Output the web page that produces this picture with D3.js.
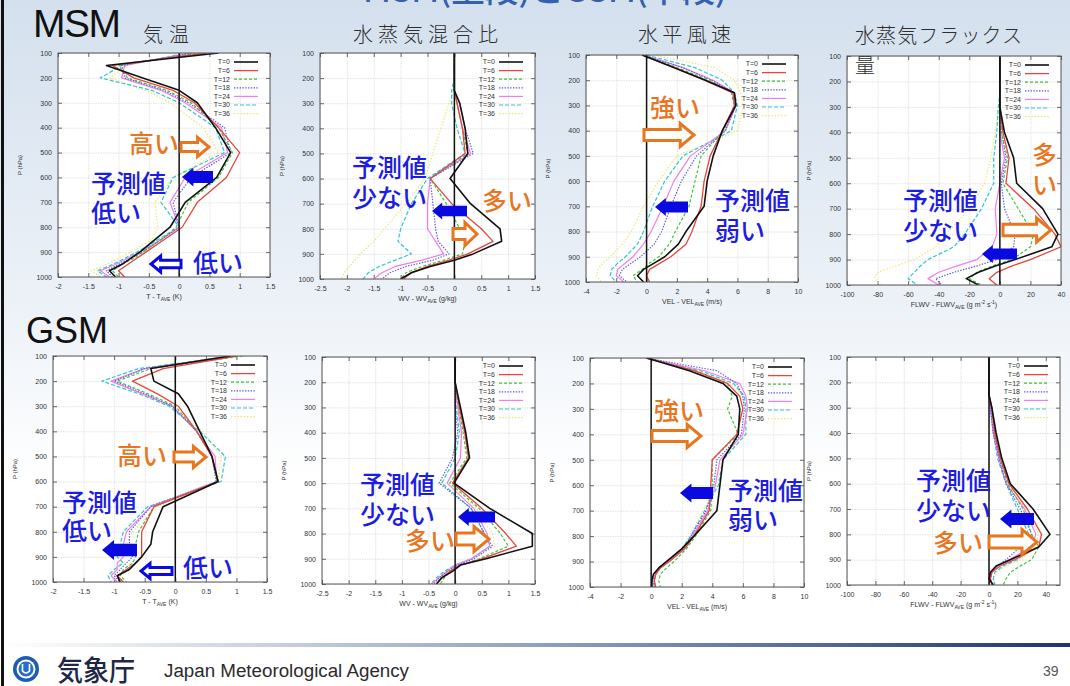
<!DOCTYPE html>
<html>
<head>
<meta charset="utf-8">
<script src="https://cdn.jsdelivr.net/npm/d3@7"></script>
<style>
  body { margin: 0; background: #fff; }
  svg { display: block; }
</style>
</head>
<body>
<svg id="chart" width="1070" height="686"></svg>
<script>
// Pressure levels (hPa) at which every profile is given
const levels = [100, 150, 200, 250, 300, 400, 500, 600, 700, 800, 850, 900, 925, 950, 975, 1000];
const leadTimes = ["T=0", "T=6", "T=12", "T=18", "T=24", "T=30", "T=36"];
const pressureTicks = [100, 200, 300, 400, 500, 600, 700, 800, 900, 1000];
const tempTicks = [-2, -1.5, -1, -0.5, 0, 0.5, 1, 1.5];
const wvTicks = [-2.5, -2, -1.5, -1, -0.5, 0, 0.5, 1, 1.5];
const velTicks = [-4, -2, 0, 2, 4, 6, 8, 10];
const flwvTicks = [-100, -80, -60, -40, -20, 0, 20, 40];

// MSM deviations from the ensemble mean; one row per lead time (T=0 ... T=36)
const msmTemp = [
  [0.65, -1.2, -0.6, 0.0, 0.3, 0.6, 0.85, 0.62, 0.1, -0.15, -0.4, -0.65, -0.8, -0.95, -1.15, -1.05],
  [0.45, -1.1, -0.75, -0.1, 0.25, 0.65, 1.0, 0.78, 0.3, 0.05, -0.25, -0.55, -0.7, -0.85, -1.0, -0.9],
  [0.35, -1.0, -0.85, -0.2, 0.2, 0.65, 0.88, 0.65, 0.15, -0.05, -0.3, -0.6, -0.75, -0.95, -1.1, -1.0],
  [0.25, -0.95, -0.9, -0.25, 0.15, 0.75, 0.85, 0.2, -0.1, 0.0, -0.3, -0.6, -0.8, -1.0, -1.2, -1.1],
  [0.2, -0.9, -0.95, -0.3, 0.1, 0.7, 0.8, 0.1, -0.15, 0.0, -0.3, -0.65, -0.85, -1.05, -1.3, -1.15],
  [0.15, -0.95, -1.3, -0.45, 0.0, 0.6, 0.75, -0.1, -0.3, 0.0, -0.35, -0.7, -0.9, -1.1, -1.35, -1.2],
  [0.1, -0.85, -1.15, -0.55, -0.15, 0.4, 0.65, -0.1, -0.4, -0.35, -0.45, -0.8, -1.0, -1.2, -1.45, -1.3]
];
const msmWv = [
  [0, 0, 0, 0, 0.1, 0.2, 0.25, -0.08, 0.3, 0.85, 0.88, 0.35, 0.0, -0.45, -0.8, -1.0],
  [0, 0, 0, 0, 0.05, 0.15, 0.2, -0.45, -0.05, 0.5, 0.72, 0.25, -0.1, -0.5, -0.8, -0.95],
  [0, 0, 0, 0, 0.05, 0.15, 0.25, -0.45, -0.15, 0.1, 0.2, 0.15, -0.2, -0.6, -0.9, -1.0],
  [0, 0, 0, 0, 0.1, 0.2, 0.35, -0.45, -0.4, -0.35, -0.3, -0.1, -0.4, -0.9, -1.2, -1.35],
  [0, 0, 0, 0, 0.05, 0.15, 0.3, -0.45, -0.5, -0.5, -0.35, -0.2, -0.6, -1.1, -1.35, -1.5],
  [0, 0, 0, -0.05, -0.05, 0.05, 0.2, -0.5, -0.8, -1.0, -1.05, -0.8, -1.1, -1.4, -1.6, -1.7],
  [0, 0, 0, 0, -0.1, -0.25, -0.4, -0.55, -0.9, -1.3, -1.5, -1.75, -1.85, -1.95, -2.05, -2.1]
];
const msmVel = [
  [-0.3, 1.8, 3.9, 5.8, 5.9, 5.0, 4.4, 4.0, 3.8, 2.6, 2.1, 1.2, 0.5, -0.2, -0.6, -0.2],
  [-0.3, 1.8, 3.8, 5.7, 5.8, 5.0, 4.2, 3.8, 3.6, 3.0, 2.6, 1.6, 0.9, 0.2, 0.0, 0.2],
  [-0.2, 2.0, 4.2, 5.6, 5.8, 5.1, 3.6, 3.2, 2.8, 1.9, 1.5, 0.8, 0.2, -0.3, -0.9, -0.6],
  [-0.2, 2.4, 4.3, 5.8, 5.9, 5.2, 3.3, 2.3, 1.6, 1.0, 0.5, -0.4, -1.0, -1.6, -1.8, -1.3],
  [-0.2, 2.4, 4.4, 5.8, 5.9, 5.2, 2.9, 1.8, 1.1, 0.3, -0.2, -0.9, -1.4, -1.9, -2.0, -1.5],
  [0.0, 3.2, 5.0, 5.8, 6.0, 5.6, 2.4, 1.2, 0.4, -0.2, -0.6, -1.4, -1.9, -2.3, -2.4, -2.0],
  [0.5, 4.5, 5.8, 6.2, 6.4, 6.0, 2.0, 0.8, -0.2, -1.0, -1.6, -2.4, -2.9, -3.2, -3.3, -3.0]
];
const msmFlwv = [
  [0, 0, 0, 0, 0, 3, 9, 11, 28, 38, 34, 10, -3, -14, -22, -14],
  [0, 0, 0, 0, 0, 2, 6, 4, 22, 36, 40, 20, 8, -2, -7, -2],
  [0, 0, 0, 0, 0, 1, 5, 2, 12, 22, 20, 8, -5, -15, -20, -12],
  [0, 0, 0, 0, 0, 1, 4, 1, 3, 10, 9, -2, -15, -30, -42, -38],
  [0, 0, 0, 0, 0, 0, 3, 0, -3, -2, -5, -15, -28, -40, -47, -40],
  [0, 0, 0, 0, -1, -2, -4, -4, -12, -23, -30, -47, -52, -56, -60, -54],
  [0, 0, 0, 0, -1, -3, -6, -10, -20, -35, -42, -56, -68, -80, -82, -78]
];

// GSM deviations from the ensemble mean
const gsmTemp = [
  [0.9, -0.4, -0.35, 0.05, 0.2, 0.4, 0.6, 0.7, -0.2, -0.37, -0.4, -0.55, -0.65, -0.75, -0.95, -0.9],
  [1.0, -0.2, -0.7, -0.3, 0.05, 0.35, 0.6, 0.7, -0.35, -0.55, -0.55, -0.55, -0.65, -0.8, -0.95, -0.85],
  [1.1, -0.4, -0.95, -0.45, 0.0, 0.35, 0.6, 0.68, -0.35, -0.6, -0.65, -0.65, -0.7, -0.85, -0.9, -0.8],
  [1.0, -0.5, -1.0, -0.5, -0.05, 0.35, 0.6, 0.67, -0.4, -0.75, -0.75, -0.7, -0.8, -0.9, -1.0, -0.9],
  [0.9, -0.5, -1.05, -0.55, -0.05, 0.35, 0.65, 0.68, -0.4, -0.8, -0.85, -0.85, -0.95, -0.95, -1.05, -0.95],
  [0.95, -0.6, -1.2, -0.6, -0.1, 0.4, 0.82, 0.75, -0.45, -0.85, -0.9, -0.95, -0.85, -1.0, -1.1, -1.05],
  [1.0, -0.5, -1.05, -0.55, -0.05, 0.45, 0.75, 0.7, -0.3, -0.7, -0.8, -0.85, -0.9, -0.95, -1.05, -1.0]
];
const gsmWv = [
  [0, 0, 0, 0.05, 0.1, 0.2, 0.27, -0.02, 0.65, 1.45, 1.45, 0.58, 0.1, -0.05, -0.25, -0.35],
  [0, 0, 0, 0.04, 0.08, 0.18, 0.25, -0.05, 0.5, 0.95, 1.15, 0.5, 0.1, -0.1, -0.25, -0.35],
  [0, 0, 0, 0.03, 0.07, 0.15, 0.22, -0.1, 0.45, 0.85, 1.0, 0.45, 0.1, -0.1, -0.2, -0.28],
  [0, 0, 0, 0, 0, 0.05, -0.05, -0.3, 0.3, 0.55, 0.7, 0.35, 0.05, -0.15, -0.3, -0.4],
  [0, 0, 0, 0.02, 0.05, 0.12, 0.1, -0.15, 0.35, 0.6, 0.65, 0.3, 0.0, -0.15, -0.3, -0.45],
  [0, 0, 0, 0.01, 0.02, 0.08, 0.0, -0.25, 0.3, 0.55, 0.65, 0.3, 0.0, -0.2, -0.35, -0.45],
  [0, 0, 0, 0.02, 0.05, 0.1, 0.1, -0.1, 0.4, 0.7, 0.75, 0.35, 0.05, -0.15, -0.3, -0.4]
];
const gsmVel = [
  [-0.3, 2.5, 4.7, 5.6, 5.8, 5.7, 4.7, 4.5, 4.3, 2.8, 2.0, 1.0, 0.5, 0.15, 0.05, 0.05],
  [-0.3, 2.8, 5.0, 5.8, 6.0, 5.6, 4.0, 3.9, 3.8, 2.8, 2.2, 1.2, 0.6, 0.3, 0.2, 0.3],
  [-0.3, 2.9, 5.0, 5.3, 5.0, 5.7, 4.0, 4.0, 3.9, 2.9, 2.3, 1.5, 1.0, 0.6, 0.5, 0.6],
  [-0.3, 4.3, 5.6, 6.0, 6.1, 5.9, 4.3, 4.1, 3.6, 2.6, 2.1, 1.0, 0.5, 0.2, 0.1, 0.2],
  [-0.3, 3.5, 5.8, 6.2, 6.3, 6.0, 4.5, 4.2, 3.7, 2.7, 2.1, 1.1, 0.6, 0.3, 0.2, 0.3],
  [-0.3, 3.2, 5.4, 6.1, 6.2, 6.2, 4.7, 4.4, 3.5, 2.6, 2.0, 1.0, 0.5, 0.3, 0.2, 0.2],
  [-0.3, 3.0, 5.3, 6.0, 6.2, 6.1, 4.6, 4.3, 3.4, 2.5, 2.0, 1.0, 0.5, 0.3, 0.2, 0.2]
];
const gsmFlwv = [
  [0, 0, 0, 0, 2, 5, 9, 15, 31, 43, 35, 15, 5, 1, 0, 3],
  [0, 0, 0, 0, 2, 4, 8, 14, 27, 37, 35, 18, 8, 2, 1, 2],
  [0, 0, 0, 0, 2, 4, 8, 13, 24, 30, 35, 30, 22, 15, 12, 10],
  [0, 0, 0, 0, 1, 3, 7, 12, 22, 30, 22, 12, 6, 2, 1, 2],
  [0, 0, 0, 0, 1, 3, 7, 12, 25, 33, 30, 14, 6, 2, 1, 2],
  [0, 0, 0, 0, 1, 3, 6, 12, 20, 28, 30, 20, 10, 4, 3, 4],
  [0, 0, 0, 0, 2, 4, 8, 13, 26, 35, 32, 22, 12, 5, 3, 5]
];

// Line styles per lead time (gnuplot-like)
const seriesColors = ["#111111", "#e8453e", "#3ec43e", "#5a5aec", "#f07ef0", "#2ec6cf", "#eee46a"];
const seriesDash = [null, null, "3,2", "1.4,1.4", null, "4,2", "1.4,1.8"];
const seriesWidth = [1.6, 1.3, 1.2, 1.2, 1.2, 1.2, 1.2];

// Panel layout: plot frame boxes in page pixels
const panels = [
  { data: msmTemp, dom: [-2, 1.5],   ticks: tempTicks, kind: "T",    box: { l: 58,  t: 53,  r: 270,  b: 277 } },
  { data: msmWv,   dom: [-2.5, 1.5], ticks: wvTicks,   kind: "WV",   box: { l: 320, t: 53,  r: 535,  b: 279 } },
  { data: msmVel,  dom: [-4, 10],    ticks: velTicks,  kind: "VEL",  box: { l: 586, t: 55,  r: 798,  b: 282 } },
  { data: msmFlwv, dom: [-100, 40],  ticks: flwvTicks, kind: "FLWV", box: { l: 847, t: 56,  r: 1061, b: 285 } },
  { data: gsmTemp, dom: [-2, 1.5],   ticks: tempTicks, kind: "T",    box: { l: 53,  t: 356, r: 267,  b: 582 } },
  { data: gsmWv,   dom: [-2.5, 1.5], ticks: wvTicks,   kind: "WV",   box: { l: 322, t: 357, r: 535,  b: 584 } },
  { data: gsmVel,  dom: [-4, 10],    ticks: velTicks,  kind: "VEL",  box: { l: 590, t: 358, r: 804,  b: 587 } },
  { data: gsmFlwv, dom: [-100, 50],  ticks: flwvTicks, kind: "FLWV", box: { l: 847, t: 357, r: 1060, b: 585 } }
];

const W = 1070, H = 686;
const ORANGE = "#e8761f", BLUE = "#1c1ce2", BLUE_ARROW = "#0a0ae0";
const AXIS_FONT = "'Liberation Sans', Arial, sans-serif";
const JP_FONT = "'Noto Sans CJK JP', 'Noto Sans', sans-serif";

const svg = d3.select("#chart");
const defs = svg.append("defs");

// slide background
const bg = defs.append("linearGradient").attr("id", "bg")
  .attr("x1", 0).attr("y1", 0).attr("x2", 0).attr("y2", 1);
bg.append("stop").attr("offset", 0).attr("stop-color", "#d4e0ee");
bg.append("stop").attr("offset", 0.45).attr("stop-color", "#edf2f8");
bg.append("stop").attr("offset", 0.7).attr("stop-color", "#ffffff");
svg.append("rect").attr("width", W).attr("height", H).attr("fill", "url(#bg)");

// footer rule
const fg = defs.append("linearGradient").attr("id", "footerRule")
  .attr("x1", 0).attr("y1", 0).attr("x2", 1).attr("y2", 0);
fg.append("stop").attr("offset", 0).attr("stop-color", "#ffffff");
fg.append("stop").attr("offset", 0.15).attr("stop-color", "#dfe4ec");
fg.append("stop").attr("offset", 0.6).attr("stop-color", "#7b8db3");
fg.append("stop").attr("offset", 1).attr("stop-color", "#1f3470");
svg.append("rect").attr("x", 0).attr("y", 643).attr("width", W).attr("height", 4)
  .attr("fill", "url(#footerRule)");

// left border
svg.append("rect").attr("x", 1).attr("y", 0).attr("width", 3).attr("height", H).attr("fill", "#111");

// slide heading (partly above the page)
svg.append("text").attr("x", 363).attr("y", 2)
  .attr("font-family", JP_FONT).attr("font-size", 32).attr("font-weight", 500)
  .attr("fill", "#3560ad").attr("textLength", 364).attr("lengthAdjust", "spacingAndGlyphs")
  .text("MSM(上段)とGSM(下段)");

// row labels
svg.append("text").attr("x", 33).attr("y", 37).attr("font-family", AXIS_FONT)
  .attr("font-size", 39).attr("fill", "#111").attr("textLength", 88).text("MSM");
svg.append("text").attr("x", 26).attr("y", 343).attr("font-family", AXIS_FONT)
  .attr("font-size", 36).attr("fill", "#111").attr("textLength", 82).text("GSM");

// column titles
const colTitles = [
  { t: "気温", x: 143, y: 42, w: 46 },
  { t: "水蒸気混合比", x: 353, y: 42, w: 145 },
  { t: "水平風速", x: 638, y: 42, w: 93 },
  { t: "水蒸気フラックス", x: 855, y: 43, w: 167 }
];
colTitles.forEach(c => {
  svg.append("text").attr("x", c.x).attr("y", c.y)
    .attr("font-family", JP_FONT).attr("font-size", 20).attr("font-weight", 300)
    .attr("fill", "#2e2e2e").attr("textLength", c.w).attr("lengthAdjust", "spacing")
    .text(c.t);
});

function axisTitle(g, kind, cx, y) {
  const t = g.append("text").attr("x", cx).attr("y", y).attr("text-anchor", "middle")
    .attr("font-family", AXIS_FONT).attr("font-size", 7).attr("fill", "#333");
  t.append("tspan").text(`${kind} - ${kind}`);
  t.append("tspan").attr("font-size", 5).attr("dy", 1.8).text("AVE");
  if (kind === "FLWV") {
    t.append("tspan").attr("dy", -1.8).text(" (g m");
    t.append("tspan").attr("font-size", 5).attr("dy", -2.6).text("-2");
    t.append("tspan").attr("dy", 2.6).text(" s");
    t.append("tspan").attr("font-size", 5).attr("dy", -2.6).text("-1");
    t.append("tspan").attr("dy", 2.6).text(")");
  } else {
    const unit = { T: " (K)", WV: " (g/kg)", VEL: " (m/s)" }[kind];
    t.append("tspan").attr("dy", -1.8).text(unit);
  }
}

function styleAxis(sel) {
  sel.select(".domain").remove();
  sel.selectAll("text").attr("font-family", AXIS_FONT).attr("font-size", 7).attr("fill", "#333");
  sel.selectAll("line").attr("stroke", "#444").attr("stroke-width", 0.8);
}

panels.forEach((p, pi) => {
  const { l, t, r, b } = p.box;
  const g = svg.append("g");
  const x = d3.scaleLinear().domain(p.dom).range([l, r]);
  const y = d3.scaleLinear().domain([100, 1000]).range([t, b]);

  g.append("rect").attr("x", l).attr("y", t).attr("width", r - l).attr("height", b - t).attr("fill", "#fff");

  // grid
  const gx = g.append("g").attr("transform", `translate(0,${b})`)
    .call(d3.axisBottom(x).tickValues(p.ticks).tickSize(-(b - t)).tickFormat(""));
  gx.select(".domain").remove();
  gx.selectAll("line").attr("stroke", "#d6d6d6").attr("stroke-width", 0.7).attr("stroke-dasharray", "1.5,1");
  const gy = g.append("g").attr("transform", `translate(${l},0)`)
    .call(d3.axisLeft(y).tickValues(pressureTicks).tickSize(-(r - l)).tickFormat(""));
  gy.select(".domain").remove();
  gy.selectAll("line").attr("stroke", "#d6d6d6").attr("stroke-width", 0.7).attr("stroke-dasharray", "1.5,1");

  // axes with inward ticks and labels
  g.append("g").attr("transform", `translate(0,${b})`)
    .call(d3.axisBottom(x).tickValues(p.ticks).tickSizeInner(-4).tickSizeOuter(0).tickPadding(7).tickFormat(d => String(d)))
    .call(styleAxis);
  g.append("g").attr("transform", `translate(0,${t})`)
    .call(d3.axisTop(x).tickValues(p.ticks).tickSizeInner(-4).tickSizeOuter(0).tickFormat(""))
    .call(styleAxis);
  g.append("g").attr("transform", `translate(${l},0)`)
    .call(d3.axisLeft(y).tickValues(pressureTicks).tickSizeInner(-4).tickSizeOuter(0).tickPadding(6).tickFormat(d => String(d)))
    .call(styleAxis);
  g.append("g").attr("transform", `translate(${r},0)`)
    .call(d3.axisRight(y).tickValues(pressureTicks).tickSizeInner(-4).tickSizeOuter(0).tickFormat(""))
    .call(styleAxis);

  // axis titles
  axisTitle(g, p.kind, (l + r) / 2, b + 22);
  g.append("text").attr("transform", `translate(${l - 36},${(t + b) / 2}) rotate(-90)`)
    .attr("text-anchor", "middle").attr("font-family", AXIS_FONT).attr("font-size", 6)
    .attr("fill", "#333").text("P (hPa)");

  // profiles
  const clipId = `clip${pi}`;
  defs.append("clipPath").attr("id", clipId).append("rect")
    .attr("x", l).attr("y", t).attr("width", r - l).attr("height", b - t);
  const plot = g.append("g").attr("clip-path", `url(#${clipId})`);
  const line = d3.line().x(d => x(d[1])).y(d => y(d[0]));
  const order = d3.range(p.data.length).reverse();
  order.forEach(i => {
    plot.append("path")
      .attr("d", line(levels.map((lev, k) => [lev, p.data[i][k]])))
      .attr("fill", "none").attr("stroke", seriesColors[i])
      .attr("stroke-width", seriesWidth[i])
      .attr("stroke-dasharray", seriesDash[i])
      .attr("stroke-linejoin", "round");
  });

  // zero axis
  g.append("line").attr("x1", x(0)).attr("x2", x(0)).attr("y1", t).attr("y2", b)
    .attr("stroke", "#111").attr("stroke-width", 1.5);

  // legend
  leadTimes.forEach((name, i) => {
    const ly = t + 9 + i * 8.6;
    g.append("text").attr("x", r - 40).attr("y", ly).attr("dy", "0.35em")
      .attr("text-anchor", "end").attr("font-family", AXIS_FONT).attr("font-size", 7)
      .attr("fill", "#333").text(name);
    g.append("line").attr("x1", r - 36).attr("x2", r - 12).attr("y1", ly).attr("y2", ly)
      .attr("stroke", seriesColors[i]).attr("stroke-width", seriesWidth[i])
      .attr("stroke-dasharray", seriesDash[i]);
  });

  // frame
  g.append("rect").attr("x", l).attr("y", t).attr("width", r - l).attr("height", b - t)
    .attr("fill", "none").attr("stroke", "#555").attr("stroke-width", 1);
});

// wrapped tail of the last column title
svg.append("text").attr("x", 855).attr("y", 73)
  .attr("font-family", JP_FONT).attr("font-size", 20).attr("font-weight", 300)
  .attr("fill", "#2e2e2e").text("量");

// block arrows: hollow (outline) or filled
function arrowPath(tail, tip, cy, h, headFrac, shaftFrac) {
  const dir = Math.sign(tip - tail);
  const len = Math.abs(tip - tail);
  const head = Math.min(h * headFrac, len * 0.5);
  const sh = h * shaftFrac;
  const hb = tip - dir * head;
  return `M${tail},${cy - sh / 2}L${hb},${cy - sh / 2}L${hb},${cy - h / 2}L${tip},${cy}` +
         `L${hb},${cy + h / 2}L${hb},${cy + sh / 2}L${tail},${cy + sh / 2}Z`;
}

const arrows = [
  // MSM
  { tail: 181, tip: 209, cy: 147, h: 19, kind: "hollowO" },
  { tail: 213, tip: 182, cy: 177, h: 19, kind: "fillB" },
  { tail: 181, tip: 151, cy: 264, h: 16, kind: "hollowB" },
  { tail: 467, tip: 432, cy: 211, h: 17, kind: "fillB" },
  { tail: 453, tip: 477, cy: 234, h: 23, kind: "hollowO" },
  { tail: 644, tip: 694, cy: 135, h: 23, kind: "hollowO" },
  { tail: 688, tip: 655, cy: 207, h: 18, kind: "fillB" },
  { tail: 1003, tip: 1051, cy: 230, h: 24, kind: "hollowO" },
  { tail: 1017, tip: 982, cy: 254, h: 18, kind: "fillB" },
  // GSM
  { tail: 174, tip: 206, cy: 457, h: 21, kind: "hollowO" },
  { tail: 137, tip: 102, cy: 550, h: 20, kind: "fillB" },
  { tail: 172, tip: 141, cy: 571, h: 15, kind: "hollowB" },
  { tail: 495, tip: 458, cy: 517, h: 18, kind: "fillB" },
  { tail: 456, tip: 489, cy: 539, h: 25, kind: "hollowO" },
  { tail: 652, tip: 701, cy: 436, h: 23, kind: "hollowO" },
  { tail: 713, tip: 680, cy: 493, h: 19, kind: "fillB" },
  { tail: 1034, tip: 1000, cy: 519, h: 19, kind: "fillB" },
  { tail: 989, tip: 1037, cy: 542, h: 25, kind: "hollowO" }
];
arrows.forEach(a => {
  if (a.kind === "fillB") {
    svg.append("path").attr("d", arrowPath(a.tail, a.tip, a.cy, a.h, 0.6, 0.62))
      .attr("fill", BLUE_ARROW);
  } else {
    svg.append("path").attr("d", arrowPath(a.tail, a.tip, a.cy, a.h, 0.6, 0.48))
      .attr("fill", "#fff").attr("stroke", a.kind === "hollowO" ? ORANGE : BLUE_ARROW)
      .attr("stroke-width", 3).attr("stroke-linejoin", "miter");
  }
});

// annotation words
const notes = [
  // MSM
  { t: "高い", x: 129, y: 153, c: ORANGE },
  { t: "予測値", x: 91, y: 193, c: BLUE },
  { t: "低い", x: 91, y: 222, c: BLUE },
  { t: "低い", x: 193, y: 272, c: BLUE },
  { t: "予測値", x: 352, y: 177, c: BLUE },
  { t: "少ない", x: 352, y: 207, c: BLUE },
  { t: "多い", x: 482, y: 210, c: ORANGE },
  { t: "強い", x: 650, y: 117, c: ORANGE },
  { t: "予測値", x: 715, y: 210, c: BLUE },
  { t: "弱い", x: 715, y: 240, c: BLUE },
  { t: "多", x: 1032, y: 164, c: ORANGE },
  { t: "い", x: 1032, y: 194, c: ORANGE },
  { t: "予測値", x: 903, y: 210, c: BLUE },
  { t: "少ない", x: 903, y: 240, c: BLUE },
  // GSM
  { t: "高い", x: 117, y: 465, c: ORANGE },
  { t: "予測値", x: 62, y: 512, c: BLUE },
  { t: "低い", x: 62, y: 540, c: BLUE },
  { t: "低い", x: 183, y: 577, c: BLUE },
  { t: "予測値", x: 360, y: 494, c: BLUE },
  { t: "少ない", x: 360, y: 524, c: BLUE },
  { t: "多い", x: 405, y: 550, c: ORANGE },
  { t: "強い", x: 654, y: 420, c: ORANGE },
  { t: "予測値", x: 728, y: 500, c: BLUE },
  { t: "弱い", x: 728, y: 529, c: BLUE },
  { t: "予測値", x: 916, y: 490, c: BLUE },
  { t: "少ない", x: 916, y: 520, c: BLUE },
  { t: "多い", x: 933, y: 552, c: ORANGE }
];
notes.forEach(n => {
  svg.append("text").attr("x", n.x).attr("y", n.y)
    .attr("font-family", JP_FONT).attr("font-size", 25).attr("font-weight", 500)
    .attr("fill", n.c).text(n.t);
});

// footer: agency mark and name
const logo = svg.append("g").attr("transform", "translate(26,669)");
logo.append("circle").attr("r", 13).attr("fill", "#1d5cb3");
logo.append("circle").attr("r", 9.5).attr("fill", "#fff");
logo.append("circle").attr("r", 7.5).attr("fill", "#2a6fc7");
logo.append("path").attr("d", "M-3.5,-5 L-3.5,2 Q0,6 3.5,2 L3.5,-5")
  .attr("fill", "none").attr("stroke", "#fff").attr("stroke-width", 1.6);
svg.append("text").attr("x", 57).attr("y", 681)
  .attr("font-family", JP_FONT).attr("font-size", 28).attr("font-weight", 500)
  .attr("fill", "#1e2747").attr("textLength", 78).attr("lengthAdjust", "spacingAndGlyphs")
  .text("気象庁");
svg.append("text").attr("x", 164).attr("y", 677)
  .attr("font-family", AXIS_FONT).attr("font-size", 18)
  .attr("fill", "#2b2b2b").attr("textLength", 245).attr("lengthAdjust", "spacingAndGlyphs")
  .text("Japan Meteorological Agency");
svg.append("text").attr("x", 1043).attr("y", 676)
  .attr("font-family", AXIS_FONT).attr("font-size", 14)
  .attr("fill", "#555").text("39");
</script>
</body>
</html>
